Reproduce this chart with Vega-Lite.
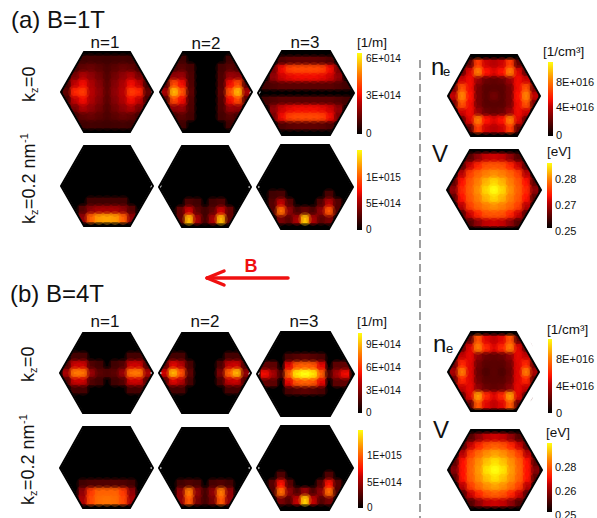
{"$schema":"https://vega.github.io/schema/vega-lite/v6.json","width":597,"height":518,"padding":0,"autosize":{"type":"none"},"background":"white","view":{"stroke":null},
"datasets":{
"hex":[
{"h":"a1","x":61,"y":92,"y2":92},{"h":"a1","x":84,"y":52,"y2":132},{"h":"a1","x":130,"y":52,"y2":132},{"h":"a1","x":153,"y":92,"y2":92},
{"h":"a2","x":160,"y":92,"y2":92},{"h":"a2","x":183,"y":52,"y2":132},{"h":"a2","x":229,"y":52,"y2":132},{"h":"a2","x":252,"y":92,"y2":92},
{"h":"a3","x":258,"y":93,"y2":93},{"h":"a3","x":282,"y":51,"y2":135},{"h":"a3","x":330,"y":51,"y2":135},{"h":"a3","x":354,"y":93,"y2":93},
{"h":"a4","x":61,"y":186,"y2":186},{"h":"a4","x":84,"y":146,"y2":226},{"h":"a4","x":130,"y":146,"y2":226},{"h":"a4","x":153,"y":186,"y2":186},
{"h":"a5","x":159,"y":187,"y2":187},{"h":"a5","x":182,"y":146,"y2":227},{"h":"a5","x":228,"y":146,"y2":227},{"h":"a5","x":251,"y":187,"y2":187},
{"h":"a6","x":257,"y":187,"y2":187},{"h":"a6","x":281,"y":145,"y2":229},{"h":"a6","x":329,"y":145,"y2":229},{"h":"a6","x":353,"y":187,"y2":187},
{"h":"b1","x":60,"y":373,"y2":373},{"h":"b1","x":83,"y":333,"y2":413},{"h":"b1","x":130,"y":333,"y2":413},{"h":"b1","x":153,"y":373,"y2":373},
{"h":"b2","x":159,"y":373,"y2":373},{"h":"b2","x":182,"y":333,"y2":413},{"h":"b2","x":228,"y":333,"y2":413},{"h":"b2","x":251,"y":373,"y2":373},
{"h":"b3","x":257,"y":374,"y2":374},{"h":"b3","x":281,"y":332,"y2":416},{"h":"b3","x":330,"y":332,"y2":416},{"h":"b3","x":354,"y":374,"y2":374},
{"h":"b4","x":60,"y":468,"y2":468},{"h":"b4","x":83,"y":427,"y2":508},{"h":"b4","x":130,"y":427,"y2":508},{"h":"b4","x":153,"y":468,"y2":468},
{"h":"b5","x":159,"y":468,"y2":468},{"h":"b5","x":182,"y":428,"y2":508},{"h":"b5","x":228,"y":428,"y2":508},{"h":"b5","x":251,"y":468,"y2":468},
{"h":"b6","x":257,"y":468,"y2":468},{"h":"b6","x":281,"y":426,"y2":510},{"h":"b6","x":329,"y":426,"y2":510},{"h":"b6","x":353,"y":468,"y2":468},
{"h":"c1","x":448,"y":96,"y2":96},{"h":"c1","x":471,"y":55,"y2":136},{"h":"c1","x":517,"y":55,"y2":136},{"h":"c1","x":540,"y":96,"y2":96},
{"h":"c2","x":447,"y":190,"y2":190},{"h":"c2","x":470,"y":150,"y2":229},{"h":"c2","x":518,"y":150,"y2":229},{"h":"c2","x":541,"y":190,"y2":190},
{"h":"c3","x":448,"y":372,"y2":372},{"h":"c3","x":471,"y":332,"y2":411},{"h":"c3","x":516,"y":332,"y2":411},{"h":"c3","x":539,"y":372,"y2":372},
{"h":"c4","x":448,"y":470,"y2":470},{"h":"c4","x":471,"y":430,"y2":510},{"h":"c4","x":519,"y":430,"y2":510},{"h":"c4","x":542,"y":470,"y2":470}
],
"outer":[
{"h":"a1","x":57,"y":92,"y2":92},{"h":"a1","x":82,"y":48.5,"y2":135.5},{"h":"a1","x":132,"y":48.5,"y2":135.5},{"h":"a1","x":157,"y":92,"y2":92},
{"h":"a2","x":156,"y":92,"y2":92},{"h":"a2","x":181,"y":48.5,"y2":135.5},{"h":"a2","x":231,"y":48.5,"y2":135.5},{"h":"a2","x":256,"y":92,"y2":92},
{"h":"a3","x":254,"y":93,"y2":93},{"h":"a3","x":280,"y":47.5,"y2":138.5},{"h":"a3","x":332,"y":47.5,"y2":138.5},{"h":"a3","x":358,"y":93,"y2":93},
{"h":"a4","x":57,"y":186,"y2":186},{"h":"a4","x":82,"y":142.5,"y2":229.5},{"h":"a4","x":132,"y":142.5,"y2":229.5},{"h":"a4","x":157,"y":186,"y2":186},
{"h":"a5","x":155,"y":187,"y2":187},{"h":"a5","x":180,"y":142.5,"y2":230.5},{"h":"a5","x":230,"y":142.5,"y2":230.5},{"h":"a5","x":255,"y":187,"y2":187},
{"h":"a6","x":253,"y":187,"y2":187},{"h":"a6","x":279,"y":141.5,"y2":232.5},{"h":"a6","x":331,"y":141.5,"y2":232.5},{"h":"a6","x":357,"y":187,"y2":187},
{"h":"b1","x":56,"y":373,"y2":373},{"h":"b1","x":81,"y":329.5,"y2":416.5},{"h":"b1","x":132,"y":329.5,"y2":416.5},{"h":"b1","x":157,"y":373,"y2":373},
{"h":"b2","x":155,"y":373,"y2":373},{"h":"b2","x":180,"y":329.5,"y2":416.5},{"h":"b2","x":230,"y":329.5,"y2":416.5},{"h":"b2","x":255,"y":373,"y2":373},
{"h":"b3","x":253,"y":374,"y2":374},{"h":"b3","x":279,"y":328.5,"y2":419.5},{"h":"b3","x":332,"y":328.5,"y2":419.5},{"h":"b3","x":358,"y":374,"y2":374},
{"h":"b4","x":56,"y":468,"y2":468},{"h":"b4","x":81,"y":423.5,"y2":511.5},{"h":"b4","x":132,"y":423.5,"y2":511.5},{"h":"b4","x":157,"y":468,"y2":468},
{"h":"b5","x":155,"y":468,"y2":468},{"h":"b5","x":180,"y":424.5,"y2":511.5},{"h":"b5","x":230,"y":424.5,"y2":511.5},{"h":"b5","x":255,"y":468,"y2":468},
{"h":"b6","x":253,"y":468,"y2":468},{"h":"b6","x":279,"y":422.5,"y2":513.5},{"h":"b6","x":331,"y":422.5,"y2":513.5},{"h":"b6","x":357,"y":468,"y2":468},
{"h":"c1","x":444,"y":96,"y2":96},{"h":"c1","x":469,"y":51.5,"y2":139.5},{"h":"c1","x":519,"y":51.5,"y2":139.5},{"h":"c1","x":544,"y":96,"y2":96},
{"h":"c2","x":443,"y":190,"y2":190},{"h":"c2","x":468,"y":146.5,"y2":232.5},{"h":"c2","x":520,"y":146.5,"y2":232.5},{"h":"c2","x":545,"y":190,"y2":190},
{"h":"c3","x":444,"y":372,"y2":372},{"h":"c3","x":469,"y":328.5,"y2":414.5},{"h":"c3","x":518,"y":328.5,"y2":414.5},{"h":"c3","x":543,"y":372,"y2":372},
{"h":"c4","x":444,"y":470,"y2":470},{"h":"c4","x":469,"y":426.5,"y2":513.5},{"h":"c4","x":521,"y":426.5,"y2":513.5},{"h":"c4","x":546,"y":470,"y2":470}
],
"cells":[
{"x":83,"y":60,"v":6},{"x":91,"y":60,"v":8},{"x":99,"y":60,"v":7},{"x":107,"y":60,"v":6},{"x":115,"y":60,"v":7},{"x":123,"y":60,"v":8},{"x":131,"y":60,"v":6},
{"x":75,"y":68,"v":8},{"x":83,"y":68,"v":20},{"x":91,"y":68,"v":22},{"x":99,"y":68,"v":18},{"x":107,"y":68,"v":12},{"x":115,"y":68,"v":18},{"x":123,"y":68,"v":22},{"x":131,"y":68,"v":20},{"x":139,"y":68,"v":8},
{"x":75,"y":76,"v":25},{"x":83,"y":76,"v":36},{"x":91,"y":76,"v":30},{"x":99,"y":76,"v":24},{"x":107,"y":76,"v":15},{"x":115,"y":76,"v":24},{"x":123,"y":76,"v":30},{"x":131,"y":76,"v":36},{"x":139,"y":76,"v":25},
{"x":67,"y":84,"v":8},{"x":75,"y":84,"v":40},{"x":83,"y":84,"v":48},{"x":91,"y":84,"v":36},{"x":99,"y":84,"v":28},{"x":107,"y":84,"v":18},{"x":115,"y":84,"v":28},{"x":123,"y":84,"v":36},{"x":131,"y":84,"v":48},{"x":139,"y":84,"v":40},{"x":147,"y":84,"v":8},
{"x":67,"y":92,"v":20},{"x":75,"y":92,"v":52},{"x":83,"y":92,"v":55},{"x":91,"y":92,"v":38},{"x":99,"y":92,"v":30},{"x":107,"y":92,"v":20},{"x":115,"y":92,"v":30},{"x":123,"y":92,"v":38},{"x":131,"y":92,"v":55},{"x":139,"y":92,"v":52},{"x":147,"y":92,"v":20},
{"x":67,"y":100,"v":8},{"x":75,"y":100,"v":40},{"x":83,"y":100,"v":48},{"x":91,"y":100,"v":36},{"x":99,"y":100,"v":28},{"x":107,"y":100,"v":18},{"x":115,"y":100,"v":28},{"x":123,"y":100,"v":36},{"x":131,"y":100,"v":48},{"x":139,"y":100,"v":40},{"x":147,"y":100,"v":8},
{"x":75,"y":108,"v":25},{"x":83,"y":108,"v":36},{"x":91,"y":108,"v":30},{"x":99,"y":108,"v":24},{"x":107,"y":108,"v":15},{"x":115,"y":108,"v":24},{"x":123,"y":108,"v":30},{"x":131,"y":108,"v":36},{"x":139,"y":108,"v":25},
{"x":75,"y":116,"v":8},{"x":83,"y":116,"v":20},{"x":91,"y":116,"v":22},{"x":99,"y":116,"v":18},{"x":107,"y":116,"v":12},{"x":115,"y":116,"v":18},{"x":123,"y":116,"v":22},{"x":131,"y":116,"v":20},{"x":139,"y":116,"v":8},
{"x":83,"y":124,"v":6},{"x":91,"y":124,"v":8},{"x":99,"y":124,"v":7},{"x":107,"y":124,"v":6},{"x":115,"y":124,"v":7},{"x":123,"y":124,"v":8},{"x":131,"y":124,"v":6},

{"x":182,"y":60,"v":6},{"x":230,"y":60,"v":6},
{"x":174,"y":68,"v":8},{"x":182,"y":68,"v":18},{"x":190,"y":68,"v":8},{"x":222,"y":68,"v":8},{"x":230,"y":68,"v":18},{"x":238,"y":68,"v":8},
{"x":174,"y":76,"v":30},{"x":182,"y":76,"v":32},{"x":190,"y":76,"v":12},{"x":222,"y":76,"v":12},{"x":230,"y":76,"v":32},{"x":238,"y":76,"v":30},
{"x":166,"y":84,"v":15},{"x":174,"y":84,"v":58},{"x":182,"y":84,"v":48},{"x":190,"y":84,"v":14},{"x":222,"y":84,"v":14},{"x":230,"y":84,"v":48},{"x":238,"y":84,"v":58},{"x":246,"y":84,"v":15},
{"x":166,"y":92,"v":35},{"x":174,"y":92,"v":85},{"x":182,"y":92,"v":60},{"x":190,"y":92,"v":18},{"x":222,"y":92,"v":18},{"x":230,"y":92,"v":60},{"x":238,"y":92,"v":85},{"x":246,"y":92,"v":35},
{"x":166,"y":100,"v":15},{"x":174,"y":100,"v":58},{"x":182,"y":100,"v":48},{"x":190,"y":100,"v":14},{"x":222,"y":100,"v":14},{"x":230,"y":100,"v":48},{"x":238,"y":100,"v":58},{"x":246,"y":100,"v":15},
{"x":174,"y":108,"v":30},{"x":182,"y":108,"v":32},{"x":190,"y":108,"v":12},{"x":222,"y":108,"v":12},{"x":230,"y":108,"v":32},{"x":238,"y":108,"v":30},
{"x":174,"y":116,"v":8},{"x":182,"y":116,"v":18},{"x":190,"y":116,"v":8},{"x":222,"y":116,"v":8},{"x":230,"y":116,"v":18},{"x":238,"y":116,"v":8},
{"x":182,"y":124,"v":6},{"x":230,"y":124,"v":6},

{"x":282,"y":61,"v":12},{"x":290,"y":61,"v":18},{"x":298,"y":61,"v":20},{"x":306,"y":61,"v":20},{"x":314,"y":61,"v":20},{"x":322,"y":61,"v":18},{"x":330,"y":61,"v":12},
{"x":274,"y":69,"v":25},{"x":282,"y":69,"v":48},{"x":290,"y":69,"v":56},{"x":298,"y":69,"v":58},{"x":306,"y":69,"v":58},{"x":314,"y":69,"v":58},{"x":322,"y":69,"v":56},{"x":330,"y":69,"v":48},{"x":338,"y":69,"v":25},
{"x":274,"y":77,"v":30},{"x":282,"y":77,"v":42},{"x":290,"y":77,"v":46},{"x":298,"y":77,"v":48},{"x":306,"y":77,"v":48},{"x":314,"y":77,"v":48},{"x":322,"y":77,"v":46},{"x":330,"y":77,"v":42},{"x":338,"y":77,"v":30},
{"x":266,"y":85,"v":8},{"x":274,"y":85,"v":14},{"x":282,"y":85,"v":18},{"x":290,"y":85,"v":18},{"x":298,"y":85,"v":18},{"x":306,"y":85,"v":18},{"x":314,"y":85,"v":18},{"x":322,"y":85,"v":18},{"x":330,"y":85,"v":18},{"x":338,"y":85,"v":14},{"x":346,"y":85,"v":8},
{"x":266,"y":101,"v":8},{"x":274,"y":101,"v":14},{"x":282,"y":101,"v":18},{"x":290,"y":101,"v":18},{"x":298,"y":101,"v":18},{"x":306,"y":101,"v":18},{"x":314,"y":101,"v":18},{"x":322,"y":101,"v":18},{"x":330,"y":101,"v":18},{"x":338,"y":101,"v":14},{"x":346,"y":101,"v":8},
{"x":274,"y":109,"v":30},{"x":282,"y":109,"v":42},{"x":290,"y":109,"v":46},{"x":298,"y":109,"v":48},{"x":306,"y":109,"v":48},{"x":314,"y":109,"v":48},{"x":322,"y":109,"v":46},{"x":330,"y":109,"v":42},{"x":338,"y":109,"v":30},
{"x":274,"y":117,"v":25},{"x":282,"y":117,"v":48},{"x":290,"y":117,"v":56},{"x":298,"y":117,"v":58},{"x":306,"y":117,"v":58},{"x":314,"y":117,"v":58},{"x":322,"y":117,"v":56},{"x":330,"y":117,"v":48},{"x":338,"y":117,"v":25},
{"x":282,"y":125,"v":12},{"x":290,"y":125,"v":18},{"x":298,"y":125,"v":20},{"x":306,"y":125,"v":20},{"x":314,"y":125,"v":20},{"x":322,"y":125,"v":18},{"x":330,"y":125,"v":12},

{"x":91,"y":202,"v":6},{"x":99,"y":202,"v":6},{"x":107,"y":202,"v":6},{"x":115,"y":202,"v":6},{"x":123,"y":202,"v":6},
{"x":83,"y":210,"v":15},{"x":91,"y":210,"v":30},{"x":99,"y":210,"v":35},{"x":107,"y":210,"v":35},{"x":115,"y":210,"v":35},{"x":123,"y":210,"v":30},{"x":131,"y":210,"v":15},
{"x":83,"y":218,"v":30},{"x":91,"y":218,"v":65},{"x":99,"y":218,"v":80},{"x":107,"y":218,"v":82},{"x":115,"y":218,"v":80},{"x":123,"y":218,"v":65},{"x":131,"y":218,"v":30},

{"x":189,"y":203,"v":12},{"x":197,"y":203,"v":6},{"x":213,"y":203,"v":6},{"x":221,"y":203,"v":12},
{"x":181,"y":211,"v":20},{"x":189,"y":211,"v":42},{"x":197,"y":211,"v":20},{"x":205,"y":211,"v":6},{"x":213,"y":211,"v":20},{"x":221,"y":211,"v":42},{"x":229,"y":211,"v":20},
{"x":181,"y":219,"v":20},{"x":189,"y":219,"v":85},{"x":197,"y":219,"v":35},{"x":205,"y":219,"v":8},{"x":213,"y":219,"v":35},{"x":221,"y":219,"v":85},{"x":229,"y":219,"v":20},

{"x":273,"y":195,"v":6},{"x":281,"y":195,"v":10},{"x":329,"y":195,"v":10},
{"x":273,"y":203,"v":15},{"x":281,"y":203,"v":40},{"x":289,"y":203,"v":15},{"x":321,"y":203,"v":12},{"x":329,"y":203,"v":38},{"x":337,"y":203,"v":15},
{"x":273,"y":211,"v":15},{"x":281,"y":211,"v":68},{"x":289,"y":211,"v":30},{"x":297,"y":211,"v":10},{"x":305,"y":211,"v":20},{"x":313,"y":211,"v":10},{"x":321,"y":211,"v":30},{"x":329,"y":211,"v":62},{"x":337,"y":211,"v":15},
{"x":281,"y":219,"v":25},{"x":289,"y":219,"v":18},{"x":297,"y":219,"v":35},{"x":305,"y":219,"v":88},{"x":313,"y":219,"v":35},{"x":321,"y":219,"v":18},{"x":329,"y":219,"v":25},

{"x":75,"y":357,"v":8},{"x":83,"y":357,"v":8},{"x":131,"y":357,"v":8},{"x":139,"y":357,"v":8},
{"x":67,"y":365,"v":12},{"x":75,"y":365,"v":42},{"x":83,"y":365,"v":42},{"x":91,"y":365,"v":14},{"x":99,"y":365,"v":6},{"x":115,"y":365,"v":6},{"x":123,"y":365,"v":14},{"x":131,"y":365,"v":42},{"x":139,"y":365,"v":42},{"x":147,"y":365,"v":12},
{"x":67,"y":373,"v":35},{"x":75,"y":373,"v":72},{"x":83,"y":373,"v":70},{"x":91,"y":373,"v":32},{"x":99,"y":373,"v":18},{"x":107,"y":373,"v":12},{"x":115,"y":373,"v":18},{"x":123,"y":373,"v":32},{"x":131,"y":373,"v":70},{"x":139,"y":373,"v":72},{"x":147,"y":373,"v":35},
{"x":67,"y":381,"v":12},{"x":75,"y":381,"v":42},{"x":83,"y":381,"v":42},{"x":91,"y":381,"v":14},{"x":99,"y":381,"v":6},{"x":115,"y":381,"v":6},{"x":123,"y":381,"v":14},{"x":131,"y":381,"v":42},{"x":139,"y":381,"v":42},{"x":147,"y":381,"v":12},
{"x":75,"y":389,"v":8},{"x":83,"y":389,"v":8},{"x":131,"y":389,"v":8},{"x":139,"y":389,"v":8},

{"x":173,"y":357,"v":8},{"x":181,"y":357,"v":8},{"x":229,"y":357,"v":8},{"x":237,"y":357,"v":8},
{"x":165,"y":365,"v":15},{"x":173,"y":365,"v":45},{"x":181,"y":365,"v":38},{"x":189,"y":365,"v":8},{"x":221,"y":365,"v":10},{"x":229,"y":365,"v":40},{"x":237,"y":365,"v":42},{"x":245,"y":365,"v":10},
{"x":165,"y":373,"v":42},{"x":173,"y":373,"v":85},{"x":181,"y":373,"v":60},{"x":189,"y":373,"v":18},{"x":221,"y":373,"v":25},{"x":229,"y":373,"v":65},{"x":237,"y":373,"v":85},{"x":245,"y":373,"v":30},
{"x":165,"y":381,"v":15},{"x":173,"y":381,"v":45},{"x":181,"y":381,"v":38},{"x":189,"y":381,"v":8},{"x":221,"y":381,"v":10},{"x":229,"y":381,"v":40},{"x":237,"y":381,"v":42},{"x":245,"y":381,"v":10},
{"x":173,"y":389,"v":8},{"x":181,"y":389,"v":8},{"x":229,"y":389,"v":8},{"x":237,"y":389,"v":8},

{"x":289,"y":358,"v":10},{"x":297,"y":358,"v":15},{"x":305,"y":358,"v":18},{"x":313,"y":358,"v":15},{"x":321,"y":358,"v":10},
{"x":265,"y":366,"v":20},{"x":273,"y":366,"v":18},{"x":289,"y":366,"v":45},{"x":297,"y":366,"v":62},{"x":305,"y":366,"v":65},{"x":313,"y":366,"v":62},{"x":321,"y":366,"v":45},{"x":337,"y":366,"v":18},{"x":345,"y":366,"v":20},
{"x":265,"y":374,"v":48},{"x":273,"y":374,"v":35},{"x":281,"y":374,"v":10},{"x":289,"y":374,"v":65},{"x":297,"y":374,"v":95},{"x":305,"y":374,"v":100},{"x":313,"y":374,"v":95},{"x":321,"y":374,"v":65},{"x":329,"y":374,"v":10},{"x":337,"y":374,"v":35},{"x":345,"y":374,"v":48},
{"x":265,"y":382,"v":20},{"x":273,"y":382,"v":18},{"x":289,"y":382,"v":45},{"x":297,"y":382,"v":62},{"x":305,"y":382,"v":65},{"x":313,"y":382,"v":62},{"x":321,"y":382,"v":45},{"x":337,"y":382,"v":18},{"x":345,"y":382,"v":20},
{"x":289,"y":390,"v":10},{"x":297,"y":390,"v":15},{"x":305,"y":390,"v":18},{"x":313,"y":390,"v":15},{"x":321,"y":390,"v":10},

{"x":83,"y":484,"v":6},{"x":91,"y":484,"v":12},{"x":99,"y":484,"v":14},{"x":107,"y":484,"v":14},{"x":115,"y":484,"v":14},{"x":123,"y":484,"v":12},{"x":131,"y":484,"v":6},
{"x":83,"y":492,"v":30},{"x":91,"y":492,"v":55},{"x":99,"y":492,"v":65},{"x":107,"y":492,"v":65},{"x":115,"y":492,"v":65},{"x":123,"y":492,"v":55},{"x":131,"y":492,"v":30},
{"x":83,"y":500,"v":35},{"x":91,"y":500,"v":58},{"x":99,"y":500,"v":68},{"x":107,"y":500,"v":70},{"x":115,"y":500,"v":68},{"x":123,"y":500,"v":58},{"x":131,"y":500,"v":35},

{"x":181,"y":484,"v":6},{"x":189,"y":484,"v":14},{"x":197,"y":484,"v":8},{"x":213,"y":484,"v":8},{"x":221,"y":484,"v":14},{"x":229,"y":484,"v":6},
{"x":181,"y":492,"v":30},{"x":189,"y":492,"v":72},{"x":197,"y":492,"v":30},{"x":205,"y":492,"v":8},{"x":213,"y":492,"v":30},{"x":221,"y":492,"v":72},{"x":229,"y":492,"v":30},
{"x":181,"y":500,"v":30},{"x":189,"y":500,"v":62},{"x":197,"y":500,"v":25},{"x":205,"y":500,"v":8},{"x":213,"y":500,"v":25},{"x":221,"y":500,"v":62},{"x":229,"y":500,"v":30},

{"x":281,"y":476,"v":12},{"x":329,"y":476,"v":12},
{"x":273,"y":484,"v":15},{"x":281,"y":484,"v":50},{"x":289,"y":484,"v":15},{"x":321,"y":484,"v":15},{"x":329,"y":484,"v":50},{"x":337,"y":484,"v":15},
{"x":273,"y":492,"v":12},{"x":281,"y":492,"v":68},{"x":289,"y":492,"v":30},{"x":297,"y":492,"v":12},{"x":305,"y":492,"v":30},{"x":313,"y":492,"v":12},{"x":321,"y":492,"v":30},{"x":329,"y":492,"v":68},{"x":337,"y":492,"v":12},
{"x":281,"y":500,"v":25},{"x":289,"y":500,"v":15},{"x":297,"y":500,"v":40},{"x":305,"y":500,"v":90},{"x":313,"y":500,"v":40},{"x":321,"y":500,"v":15},{"x":329,"y":500,"v":25},

{"x":470,"y":64,"v":20},{"x":478,"y":64,"v":55},{"x":486,"y":64,"v":42},{"x":494,"y":64,"v":38},{"x":502,"y":64,"v":42},{"x":510,"y":64,"v":55},{"x":518,"y":64,"v":20},
{"x":462,"y":72,"v":20},{"x":470,"y":72,"v":45},{"x":478,"y":72,"v":72},{"x":486,"y":72,"v":50},{"x":494,"y":72,"v":45},{"x":502,"y":72,"v":50},{"x":510,"y":72,"v":72},{"x":518,"y":72,"v":45},{"x":526,"y":72,"v":20},
{"x":462,"y":80,"v":42},{"x":470,"y":80,"v":48},{"x":478,"y":80,"v":32},{"x":486,"y":80,"v":22},{"x":494,"y":80,"v":20},{"x":502,"y":80,"v":22},{"x":510,"y":80,"v":32},{"x":518,"y":80,"v":48},{"x":526,"y":80,"v":42},
{"x":454,"y":88,"v":25},{"x":462,"y":88,"v":60},{"x":470,"y":88,"v":48},{"x":478,"y":88,"v":25},{"x":486,"y":88,"v":17},{"x":494,"y":88,"v":17},{"x":502,"y":88,"v":17},{"x":510,"y":88,"v":25},{"x":518,"y":88,"v":48},{"x":526,"y":88,"v":60},{"x":534,"y":88,"v":25},
{"x":454,"y":96,"v":40},{"x":462,"y":96,"v":75},{"x":470,"y":96,"v":50},{"x":478,"y":96,"v":25},{"x":486,"y":96,"v":17},{"x":494,"y":96,"v":24},{"x":502,"y":96,"v":17},{"x":510,"y":96,"v":25},{"x":518,"y":96,"v":50},{"x":526,"y":96,"v":75},{"x":534,"y":96,"v":40},
{"x":454,"y":104,"v":25},{"x":462,"y":104,"v":60},{"x":470,"y":104,"v":48},{"x":478,"y":104,"v":25},{"x":486,"y":104,"v":17},{"x":494,"y":104,"v":17},{"x":502,"y":104,"v":17},{"x":510,"y":104,"v":25},{"x":518,"y":104,"v":48},{"x":526,"y":104,"v":60},{"x":534,"y":104,"v":25},
{"x":462,"y":112,"v":42},{"x":470,"y":112,"v":48},{"x":478,"y":112,"v":32},{"x":486,"y":112,"v":22},{"x":494,"y":112,"v":20},{"x":502,"y":112,"v":22},{"x":510,"y":112,"v":32},{"x":518,"y":112,"v":48},{"x":526,"y":112,"v":42},
{"x":462,"y":120,"v":20},{"x":470,"y":120,"v":45},{"x":478,"y":120,"v":72},{"x":486,"y":120,"v":50},{"x":494,"y":120,"v":45},{"x":502,"y":120,"v":50},{"x":510,"y":120,"v":72},{"x":518,"y":120,"v":45},{"x":526,"y":120,"v":20},
{"x":470,"y":128,"v":20},{"x":478,"y":128,"v":55},{"x":486,"y":128,"v":42},{"x":494,"y":128,"v":38},{"x":502,"y":128,"v":42},{"x":510,"y":128,"v":55},{"x":518,"y":128,"v":20},

{"x":470,"y":158,"v":15},{"x":478,"y":158,"v":30},{"x":486,"y":158,"v":40},{"x":494,"y":158,"v":42},{"x":502,"y":158,"v":40},{"x":510,"y":158,"v":30},{"x":518,"y":158,"v":15},
{"x":462,"y":166,"v":15},{"x":470,"y":166,"v":42},{"x":478,"y":166,"v":52},{"x":486,"y":166,"v":60},{"x":494,"y":166,"v":62},{"x":502,"y":166,"v":60},{"x":510,"y":166,"v":52},{"x":518,"y":166,"v":42},{"x":526,"y":166,"v":15},
{"x":462,"y":174,"v":38},{"x":470,"y":174,"v":56},{"x":478,"y":174,"v":66},{"x":486,"y":174,"v":74},{"x":494,"y":174,"v":78},{"x":502,"y":174,"v":74},{"x":510,"y":174,"v":66},{"x":518,"y":174,"v":56},{"x":526,"y":174,"v":38},
{"x":454,"y":182,"v":18},{"x":462,"y":182,"v":50},{"x":470,"y":182,"v":62},{"x":478,"y":182,"v":74},{"x":486,"y":182,"v":85},{"x":494,"y":182,"v":92},{"x":502,"y":182,"v":85},{"x":510,"y":182,"v":74},{"x":518,"y":182,"v":62},{"x":526,"y":182,"v":50},{"x":534,"y":182,"v":18},
{"x":454,"y":190,"v":30},{"x":462,"y":190,"v":52},{"x":470,"y":190,"v":64},{"x":478,"y":190,"v":78},{"x":486,"y":190,"v":92},{"x":494,"y":190,"v":100},{"x":502,"y":190,"v":92},{"x":510,"y":190,"v":78},{"x":518,"y":190,"v":64},{"x":526,"y":190,"v":52},{"x":534,"y":190,"v":30},
{"x":454,"y":198,"v":18},{"x":462,"y":198,"v":50},{"x":470,"y":198,"v":62},{"x":478,"y":198,"v":74},{"x":486,"y":198,"v":85},{"x":494,"y":198,"v":92},{"x":502,"y":198,"v":85},{"x":510,"y":198,"v":74},{"x":518,"y":198,"v":62},{"x":526,"y":198,"v":50},{"x":534,"y":198,"v":18},
{"x":462,"y":206,"v":38},{"x":470,"y":206,"v":56},{"x":478,"y":206,"v":66},{"x":486,"y":206,"v":74},{"x":494,"y":206,"v":78},{"x":502,"y":206,"v":74},{"x":510,"y":206,"v":66},{"x":518,"y":206,"v":56},{"x":526,"y":206,"v":38},
{"x":462,"y":214,"v":15},{"x":470,"y":214,"v":42},{"x":478,"y":214,"v":52},{"x":486,"y":214,"v":60},{"x":494,"y":214,"v":62},{"x":502,"y":214,"v":60},{"x":510,"y":214,"v":52},{"x":518,"y":214,"v":42},{"x":526,"y":214,"v":15},
{"x":470,"y":222,"v":15},{"x":478,"y":222,"v":30},{"x":486,"y":222,"v":40},{"x":494,"y":222,"v":42},{"x":502,"y":222,"v":40},{"x":510,"y":222,"v":30},{"x":518,"y":222,"v":15},

{"x":470,"y":340,"v":20},{"x":478,"y":340,"v":60},{"x":486,"y":340,"v":45},{"x":494,"y":340,"v":40},{"x":502,"y":340,"v":45},{"x":510,"y":340,"v":60},{"x":518,"y":340,"v":20},
{"x":462,"y":348,"v":18},{"x":470,"y":348,"v":45},{"x":478,"y":348,"v":72},{"x":486,"y":348,"v":52},{"x":494,"y":348,"v":45},{"x":502,"y":348,"v":52},{"x":510,"y":348,"v":72},{"x":518,"y":348,"v":45},{"x":526,"y":348,"v":18},
{"x":462,"y":356,"v":40},{"x":470,"y":356,"v":46},{"x":478,"y":356,"v":30},{"x":486,"y":356,"v":22},{"x":494,"y":356,"v":20},{"x":502,"y":356,"v":22},{"x":510,"y":356,"v":30},{"x":518,"y":356,"v":46},{"x":526,"y":356,"v":40},
{"x":454,"y":364,"v":22},{"x":462,"y":364,"v":52},{"x":470,"y":364,"v":45},{"x":478,"y":364,"v":24},{"x":486,"y":364,"v":17},{"x":494,"y":364,"v":17},{"x":502,"y":364,"v":17},{"x":510,"y":364,"v":24},{"x":518,"y":364,"v":45},{"x":526,"y":364,"v":52},{"x":534,"y":364,"v":22},
{"x":454,"y":372,"v":35},{"x":462,"y":372,"v":72},{"x":470,"y":372,"v":45},{"x":478,"y":372,"v":22},{"x":486,"y":372,"v":12},{"x":494,"y":372,"v":18},{"x":502,"y":372,"v":12},{"x":510,"y":372,"v":22},{"x":518,"y":372,"v":45},{"x":526,"y":372,"v":72},{"x":534,"y":372,"v":35},
{"x":454,"y":380,"v":22},{"x":462,"y":380,"v":52},{"x":470,"y":380,"v":45},{"x":478,"y":380,"v":24},{"x":486,"y":380,"v":17},{"x":494,"y":380,"v":17},{"x":502,"y":380,"v":17},{"x":510,"y":380,"v":24},{"x":518,"y":380,"v":45},{"x":526,"y":380,"v":52},{"x":534,"y":380,"v":22},
{"x":462,"y":388,"v":40},{"x":470,"y":388,"v":46},{"x":478,"y":388,"v":30},{"x":486,"y":388,"v":22},{"x":494,"y":388,"v":20},{"x":502,"y":388,"v":22},{"x":510,"y":388,"v":30},{"x":518,"y":388,"v":46},{"x":526,"y":388,"v":40},
{"x":462,"y":396,"v":18},{"x":470,"y":396,"v":45},{"x":478,"y":396,"v":80},{"x":486,"y":396,"v":52},{"x":494,"y":396,"v":45},{"x":502,"y":396,"v":52},{"x":510,"y":396,"v":80},{"x":518,"y":396,"v":45},{"x":526,"y":396,"v":18},
{"x":470,"y":404,"v":20},{"x":478,"y":404,"v":62},{"x":486,"y":404,"v":45},{"x":494,"y":404,"v":40},{"x":502,"y":404,"v":45},{"x":510,"y":404,"v":62},{"x":518,"y":404,"v":20},

{"x":471,"y":438,"v":15},{"x":479,"y":438,"v":30},{"x":487,"y":438,"v":40},{"x":495,"y":438,"v":42},{"x":503,"y":438,"v":40},{"x":511,"y":438,"v":30},{"x":519,"y":438,"v":15},
{"x":463,"y":446,"v":15},{"x":471,"y":446,"v":42},{"x":479,"y":446,"v":52},{"x":487,"y":446,"v":60},{"x":495,"y":446,"v":64},{"x":503,"y":446,"v":60},{"x":511,"y":446,"v":52},{"x":519,"y":446,"v":42},{"x":527,"y":446,"v":15},
{"x":463,"y":454,"v":38},{"x":471,"y":454,"v":56},{"x":479,"y":454,"v":68},{"x":487,"y":454,"v":78},{"x":495,"y":454,"v":82},{"x":503,"y":454,"v":78},{"x":511,"y":454,"v":68},{"x":519,"y":454,"v":56},{"x":527,"y":454,"v":38},
{"x":455,"y":462,"v":18},{"x":463,"y":462,"v":50},{"x":471,"y":462,"v":64},{"x":479,"y":462,"v":78},{"x":487,"y":462,"v":88},{"x":495,"y":462,"v":94},{"x":503,"y":462,"v":88},{"x":511,"y":462,"v":78},{"x":519,"y":462,"v":64},{"x":527,"y":462,"v":50},{"x":535,"y":462,"v":18},
{"x":455,"y":470,"v":28},{"x":463,"y":470,"v":50},{"x":471,"y":470,"v":66},{"x":479,"y":470,"v":80},{"x":487,"y":470,"v":95},{"x":495,"y":470,"v":100},{"x":503,"y":470,"v":95},{"x":511,"y":470,"v":80},{"x":519,"y":470,"v":66},{"x":527,"y":470,"v":50},{"x":535,"y":470,"v":28},
{"x":455,"y":478,"v":18},{"x":463,"y":478,"v":50},{"x":471,"y":478,"v":64},{"x":479,"y":478,"v":78},{"x":487,"y":478,"v":88},{"x":495,"y":478,"v":94},{"x":503,"y":478,"v":88},{"x":511,"y":478,"v":78},{"x":519,"y":478,"v":64},{"x":527,"y":478,"v":50},{"x":535,"y":478,"v":18},
{"x":463,"y":486,"v":38},{"x":471,"y":486,"v":56},{"x":479,"y":486,"v":68},{"x":487,"y":486,"v":78},{"x":495,"y":486,"v":82},{"x":503,"y":486,"v":78},{"x":511,"y":486,"v":68},{"x":519,"y":486,"v":56},{"x":527,"y":486,"v":38},
{"x":463,"y":494,"v":15},{"x":471,"y":494,"v":42},{"x":479,"y":494,"v":52},{"x":487,"y":494,"v":60},{"x":495,"y":494,"v":64},{"x":503,"y":494,"v":60},{"x":511,"y":494,"v":52},{"x":519,"y":494,"v":42},{"x":527,"y":494,"v":15},
{"x":471,"y":502,"v":15},{"x":479,"y":502,"v":30},{"x":487,"y":502,"v":40},{"x":495,"y":502,"v":42},{"x":503,"y":502,"v":40},{"x":511,"y":502,"v":30},{"x":519,"y":502,"v":15}
]},
"layer":[
{"data":{"name":"hex"},"mark":{"type":"area","color":"#000000"},"encoding":{"x":{"field":"x","type":"quantitative","scale":{"domain":[0,597],"nice":false,"zero":false},"axis":null},"y":{"field":"y","type":"quantitative","scale":{"domain":[518,0],"nice":false,"zero":false},"axis":null},"y2":{"field":"y2"},"detail":{"field":"h"}}},
{"data":{"name":"cells"},"mark":{"type":"rect","width":8.5,"height":8.5},"encoding":{"x":{"field":"x","type":"quantitative"},"y":{"field":"y","type":"quantitative"},"color":{"field":"v","type":"quantitative","scale":{"domain":[0,20,40,50,75,100],"range":["#000000","#600000","#c00000","#ff1000","#ff8000","#ffff10"]},"legend":null}}},
{"data":{"name":"cells"},"mark":{"type":"circle","size":190,"opacity":0.35},"encoding":{"x":{"field":"x","type":"quantitative"},"y":{"field":"y","type":"quantitative"},"color":{"field":"v","type":"quantitative","legend":null},"order":{"field":"v","type":"quantitative"}}},
{"data":{"name":"cells"},"mark":{"type":"circle","size":60,"opacity":0.35},"encoding":{"x":{"field":"x","type":"quantitative"},"y":{"field":"y","type":"quantitative"},"color":{"field":"v","type":"quantitative","legend":null},"order":{"field":"v","type":"quantitative"}}},
{"data":{"name":"outer"},"mark":{"type":"area","fillOpacity":0,"stroke":"#ffffff","strokeWidth":8},"encoding":{"x":{"field":"x","type":"quantitative"},"y":{"field":"y","type":"quantitative"},"y2":{"field":"y2"},"detail":{"field":"h"}}},
{"data":{"name":"hex"},"mark":{"type":"area","fillOpacity":0,"stroke":"#000000","strokeWidth":2},"encoding":{"x":{"field":"x","type":"quantitative"},"y":{"field":"y","type":"quantitative"},"y2":{"field":"y2"},"detail":{"field":"h"}}},
{"data":{"values":[{"x":357,"x2":362,"y":53,"y2":134},{"x":357,"x2":362,"y":150,"y2":230},{"x":358,"x2":362,"y":333,"y2":413},{"x":358,"x2":363,"y":430,"y2":508},{"x":548,"x2":553,"y":62,"y2":136},{"x":547,"x2":552,"y":163,"y2":228},{"x":548,"x2":552,"y":339,"y2":413},{"x":547,"x2":552,"y":443,"y2":512}]},"mark":{"type":"rect","color":{"gradient":"linear","x1":0,"y1":1,"x2":0,"y2":0,"stops":[{"offset":0,"color":"#000000"},{"offset":0.2,"color":"#600000"},{"offset":0.4,"color":"#c00000"},{"offset":0.5,"color":"#ff1000"},{"offset":0.75,"color":"#ff8000"},{"offset":1,"color":"#ffff10"}]}},"encoding":{"x":{"field":"x","type":"quantitative"},"x2":{"field":"x2"},"y":{"field":"y","type":"quantitative"},"y2":{"field":"y2"}}},
{"data":{"values":[{"x":420,"y":60,"y2":518}]},"mark":{"type":"rule","color":"#808080","strokeWidth":1.5,"strokeDash":[8,4]},"encoding":{"x":{"field":"x","type":"quantitative"},"y":{"field":"y","type":"quantitative"},"y2":{"field":"y2"}}},
{"data":{"values":[{"g":"shaft","x":288,"y":278},{"g":"shaft","x":208,"y":278},{"g":"head","x":224,"y":271},{"g":"head","x":207,"y":278},{"g":"head2","x":207,"y":278},{"g":"head2","x":224,"y":285}]},"mark":{"type":"line","color":"#f01010","strokeWidth":3.5,"strokeCap":"round"},"encoding":{"x":{"field":"x","type":"quantitative"},"y":{"field":"y","type":"quantitative"},"detail":{"field":"g"},"order":{"field":"x"}}},
{"data":{"values":[{"x":251,"y":272,"t":"B"}]},"mark":{"type":"text","font":"Liberation Sans","fontSize":18,"fontWeight":"bold","color":"#f01010","align":"center","baseline":"alphabetic"},"encoding":{"x":{"field":"x","type":"quantitative"},"y":{"field":"y","type":"quantitative"},"text":{"field":"t"}}},
{"data":{"values":[{"x":11,"y":28,"t":"(a) B=1T"},{"x":10,"y":302,"t":"(b) B=4T"},{"x":431,"y":75,"t":"n"},{"x":432,"y":162,"t":"V"},{"x":433,"y":352,"t":"n"},{"x":433,"y":438,"t":"V"}]},"mark":{"type":"text","font":"Liberation Sans","fontSize":24,"color":"#111111","align":"left","baseline":"alphabetic"},"encoding":{"x":{"field":"x","type":"quantitative"},"y":{"field":"y","type":"quantitative"},"text":{"field":"t"}}},
{"data":{"values":[{"x":105,"y":48,"t":"n=1"},{"x":206,"y":49,"t":"n=2"},{"x":305,"y":48,"t":"n=3"},{"x":105,"y":327,"t":"n=1"},{"x":205,"y":327,"t":"n=2"},{"x":304,"y":327,"t":"n=3"}]},"mark":{"type":"text","font":"Liberation Sans","fontSize":17,"color":"#111111","align":"center","baseline":"alphabetic"},"encoding":{"x":{"field":"x","type":"quantitative"},"y":{"field":"y","type":"quantitative"},"text":{"field":"t"}}},
{"data":{"values":[{"x":443,"y":76,"t":"e"},{"x":446,"y":353,"t":"e"}]},"mark":{"type":"text","font":"Liberation Sans","fontSize":13,"color":"#111111","align":"left","baseline":"alphabetic"},"encoding":{"x":{"field":"x","type":"quantitative"},"y":{"field":"y","type":"quantitative"},"text":{"field":"t"}}},
{"data":{"values":[{"x":357,"y":43,"t":"[1/m]"},{"x":357,"y":322,"t":"[1/m]"},{"x":543,"y":52,"t":"[1/cm³]"},{"x":547,"y":330,"t":"[1/cm³]"},{"x":547,"y":152,"t":"[eV]"},{"x":546,"y":433,"t":"[eV]"}]},"mark":{"type":"text","font":"Liberation Sans","fontSize":13.5,"color":"#111111","align":"left","baseline":"middle"},"encoding":{"x":{"field":"x","type":"quantitative"},"y":{"field":"y","type":"quantitative"},"text":{"field":"t"}}},
{"data":{"values":[{"x":366,"y":59,"t":"6E+014"},{"x":366,"y":96,"t":"3E+014"},{"x":366,"y":134,"t":"0"},{"x":366,"y":178,"t":"1E+015"},{"x":366,"y":204,"t":"5E+014"},{"x":366,"y":230,"t":"0"},{"x":366,"y":345,"t":"9E+014"},{"x":366,"y":368,"t":"6E+014"},{"x":366,"y":391,"t":"3E+014"},{"x":366,"y":413,"t":"0"},{"x":367,"y":456,"t":"1E+015"},{"x":367,"y":483,"t":"5E+014"},{"x":367,"y":508,"t":"0"}]},"mark":{"type":"text","font":"Liberation Sans","fontSize":10,"color":"#111111","align":"left","baseline":"middle"},"encoding":{"x":{"field":"x","type":"quantitative"},"y":{"field":"y","type":"quantitative"},"text":{"field":"t"}}},
{"data":{"values":[{"x":556,"y":83,"t":"8E+016"},{"x":556,"y":108,"t":"4E+016"},{"x":556,"y":136,"t":"0"},{"x":555,"y":180,"t":"0.28"},{"x":555,"y":206,"t":"0.27"},{"x":555,"y":232,"t":"0.25"},{"x":556,"y":360,"t":"8E+016"},{"x":556,"y":387,"t":"4E+016"},{"x":556,"y":414,"t":"0"},{"x":555,"y":468,"t":"0.28"},{"x":555,"y":492,"t":"0.26"},{"x":555,"y":516,"t":"0.25"}]},"mark":{"type":"text","font":"Liberation Sans","fontSize":11,"color":"#111111","align":"left","baseline":"middle"},"encoding":{"x":{"field":"x","type":"quantitative"},"y":{"field":"y","type":"quantitative"},"text":{"field":"t"}}},
{"data":{"values":[{"x":35,"y":102,"t":"k"},{"x":35,"y":87,"t":"=0"},{"x":35,"y":224,"t":"k"},{"x":35,"y":209,"t":"=0.2 nm"},{"x":34,"y":382,"t":"k"},{"x":34,"y":367,"t":"=0"},{"x":34,"y":505,"t":"k"},{"x":34,"y":490,"t":"=0.2 nm"}]},"mark":{"type":"text","font":"Liberation Sans","fontSize":18,"color":"#111111","align":"left","baseline":"alphabetic","angle":270},"encoding":{"x":{"field":"x","type":"quantitative"},"y":{"field":"y","type":"quantitative"},"text":{"field":"t"}}},
{"data":{"values":[{"x":38,"y":93,"t":"z"},{"x":38,"y":215,"t":"z"},{"x":37,"y":373,"t":"z"},{"x":37,"y":496,"t":"z"},{"x":28,"y":143,"t":"-1"},{"x":27,"y":424,"t":"-1"}]},"mark":{"type":"text","font":"Liberation Sans","fontSize":11,"color":"#111111","align":"left","baseline":"alphabetic","angle":270},"encoding":{"x":{"field":"x","type":"quantitative"},"y":{"field":"y","type":"quantitative"},"text":{"field":"t"}}}
]}
